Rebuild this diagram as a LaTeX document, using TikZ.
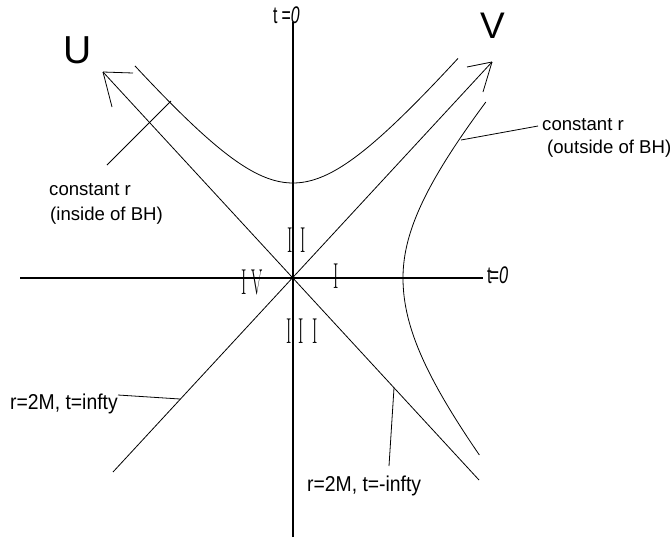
\documentclass[tikz,border=0pt]{standalone}
\usepackage{fontspec}
\usepackage{graphicx}
\newfontfamily\arial{Liberation Sans}
\newcommand\rmnum[1]{\scalebox{0.45}[1]{\fontsize{36}{36}\selectfont #1}}
\tikzset{
  axisline/.style={line width=1.3pt},
  curve/.style={line width=0.8pt},
  lab/.style={inner sep=0pt, anchor=base west, font=\arial\fontsize{18.6}{20}\selectfont},
  horlab/.style={inner sep=0pt, anchor=base west, font=\arial\fontsize{21.5}{24}\selectfont},
  tlab/.style={inner sep=0pt, anchor=base west, font=\arial\fontsize{24}{28}\selectfont},
  biglab/.style={inner sep=0pt, anchor=base},
  region/.style={inner sep=0pt, anchor=base}
}
\begin{document}
\begin{tikzpicture}[x=1pt,y=-1pt]
\useasboundingbox (0,0) rectangle (670,542);

% axes
\coordinate (O) at (293,278);
\coordinate (Ttop) at (293,22);
\coordinate (Tbot) at (293,537);
\coordinate (Xl) at (20,278);
\coordinate (Xr) at (483,278);
\draw[axisline] (Tbot) -- (Ttop);
\draw[axisline] (Xl) -- (Xr);

% light cone lines U and V
\coordinate (Utip) at (103,72);
\coordinate (Uend) at (479,480);
\coordinate (Vtip) at (492,62);
\coordinate (Vend) at (113,472);
\draw[curve] (Uend) -- (Utip);
\draw[curve] (Vend) -- (Vtip);
% open arrowheads
\draw[curve] (Utip) -- ++(30,1);
\draw[curve] (Utip) -- ++(9,35);
\draw[curve] (Vtip) -- ++(-25,5);
\draw[curve] (Vtip) -- ++(-9,30);

% constant r hyperbola inside BH
\draw[curve] plot[domain=-158:165, samples=90, smooth]
  ({293+\x}, {278-10*sqrt(90.25+(0.12*\x)^2)});
% constant r hyperbola outside BH
\draw[curve] plot[domain=-176:0, samples=60, smooth]
  ({293+10*sqrt(121+(0.09*\x)^2)}, {278+\x})
  -- plot[domain=0:177, samples=60, smooth]
  ({293+10*sqrt(121+(0.085*\x)^2)}, {278+\x});

% labels U, V, t=0
\node[biglab, font=\arial\fontsize{39}{42}\selectfont] (Ulab) at (77.5,63) {U};
\node[biglab, font=\arial\fontsize{37}{40}\selectfont] (Vlab) at (492.5,38.5) {V};
\node[tlab] (t0top) at (273,23) {\scalebox{0.66}[1]{t\kern6pt=\textit{0}}};
\node[tlab] (t0right) at (487,283) {\scalebox{0.68}[1]{t\kern-3pt=\textit{0}}};

% region labels
\node[region] (rII) at (296.5,252) {\rmnum{I\kern16pt I}};
\node[region] (rI) at (336,288) {\rmnum{I}};
\node[region] (rIV) at (252,294) {\rmnum{I\kern10pt V}};
\node[region] (rIII) at (302,343) {\rmnum{I\kern16pt I\kern18pt I}};

% constant r inside
\node[lab] (cin1) at (49,195) {constant r};
\node[lab] (cin2) at (50,220) {(inside of BH)};
\coordinate (cinA) at (107,165);
\coordinate (cinB) at (171,101);
\draw[curve] (cinA) -- (cinB);

% constant r outside
\node[lab] (cout1) at (542,130) {constant r};
\node[lab] (cout2) at (547,153) {(outside of BH)};
\coordinate (coutA) at (461,140);
\coordinate (coutB) at (538,126);
\draw[curve] (coutA) -- (coutB);

% r=2M, t=infty
\node[horlab] (hinf) at (10,409) {\scalebox{0.9}[1]{r=2M, t=infty}};
\coordinate (hinfA) at (118,395);
\coordinate (hinfB) at (180,399);
\draw[curve] (hinfA) -- (hinfB);

% r=2M, t=-infty
\node[horlab] (hminf) at (307,491) {\scalebox{0.9}[1]{r=2M, t=-infty}};
\coordinate (hminfA) at (389,466);
\coordinate (hminfB) at (394,388);
\draw[curve] (hminfA) -- (hminfB);
\end{tikzpicture}
\end{document}
